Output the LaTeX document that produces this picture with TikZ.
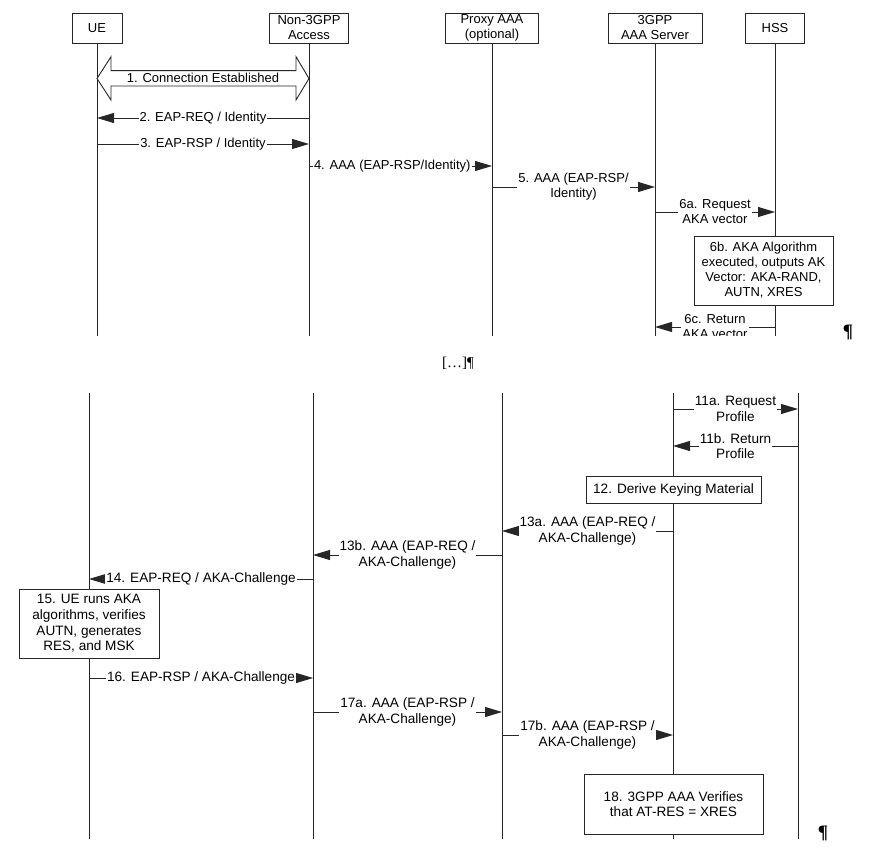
\documentclass[tikz,border=0pt]{standalone}
\usepackage{fontspec}
\setmainfont{Liberation Sans}
\newfontfamily\pilcrowfont{Liberation Serif}
\usetikzlibrary{arrows.meta}
\newcommand\sztop{\fontsize{13}{15}\selectfont}
\newcommand\szbot{\fontsize{13.6}{15.6}\selectfont}
\begin{document}
\begin{tikzpicture}[x=1pt,y=-1pt,
  ln/.style={draw=black!85, line width=0.9pt},
  hdr/.style={ln, fill=white, align=center, inner sep=0pt, minimum height=30pt, font=\sztop},
  boxT/.style={ln, fill=white, align=center, inner sep=0pt, font=\sztop},
  boxB/.style={ln, fill=white, align=center, inner sep=0pt, font=\szbot},
  msg/.style={ln, -{Triangle[length=17pt,width=10pt]}},
  lblT/.style={fill=white, inner sep=1pt, align=center, font=\sztop},
  lblB/.style={fill=white, inner sep=1pt, align=center, font=\szbot},
]
\fill[white] (0,0) rectangle (884,850);
\useasboundingbox (0,0) rectangle (884,850);

% ---------------- top part ----------------
\begin{scope}
\clip (0,0) rectangle (884,336);
\node[hdr, minimum width=50pt] (ue)  at (97,28)  {UE};
\node[hdr, minimum width=79pt] (nga) at (309,28) {Non-3GPP\\Access};
\node[hdr, minimum width=93pt] (pxy) at (492,28) {Proxy AAA\\(optional)};
\node[hdr, minimum width=94pt] (aaa) at (655,28) {3GPP\\AAA Server};
\node[hdr, minimum width=59pt] (hss) at (775,28) {HSS};
\coordinate (bot) at (0,340);
\foreach \n in {ue,nga,pxy,aaa,hss} \draw[ln] (\n.south) -- (\n |- bot);

% 1. connection established (block double arrow)
\draw[ln, fill=white] (97,78.5) -- (111,56.7) -- (111,70.7) -- (296,70.7) -- (296,56.7)
  -- (309,78.5) -- (296,100) -- (296,86) -- (111,86) -- (111,100) -- cycle;
\node[font=\sztop, inner sep=0pt] (c1) at (203,78) {1. Connection Established};

\coordinate (r2) at (0,118);
\coordinate (r3) at (0,144);
\coordinate (r4) at (0,166);
\coordinate (r5) at (0,187);
\coordinate (r6a) at (0,212);
\coordinate (r6c) at (0,327);
\draw[msg] (nga |- r2) -- (ue |- r2) node[lblT, midway] (m2) {2. EAP-REQ / Identity};
\draw[msg] (ue |- r3) -- (nga |- r3) node[lblT, midway] (m3) {3. EAP-RSP / Identity};
\draw[msg] (nga |- r4) -- (pxy |- r4) node[lblT, pos=0.455] (m4) {4. AAA (EAP-RSP/Identity)};
\draw[msg] (pxy |- r5) -- (aaa |- r5) node[lblT, midway] (m5) {5. AAA (EAP-RSP/\\Identity)};
\draw[msg] (aaa |- r6a) -- (hss |- r6a) node[lblT, midway] (m6a) {6a. Request\\AKA vector};
\node[boxT, minimum width=139pt, minimum height=69pt] (b6b) at (763.5,270.5)
  {6b. AKA Algorithm\\executed, outputs AK\\Vector: AKA-RAND,\\AUTN, XRES};
\draw[msg] (hss |- r6c) -- (aaa |- r6c) node[lblT, midway] (m6c) {6c. Return\\AKA vector};
\end{scope}

\node[font=\pilcrowfont\bfseries\fontsize{19}{19}\selectfont, inner sep=0pt] (pc1) at (848,332) {¶};
\node[font=\pilcrowfont\fontsize{15}{15}\selectfont, inner sep=0pt] (gap) at (458,363) {[…]¶};

% ---------------- bottom part ----------------
\coordinate (ueB)  at (89,393);
\coordinate (ngaB) at (313,393);
\coordinate (pxyB) at (502,393);
\coordinate (aaaB) at (673,393);
\coordinate (hssB) at (798,393);
\coordinate (botB) at (0,839);
\foreach \n in {ueB,ngaB,pxyB,aaaB,hssB} \draw[ln] (\n) -- (\n |- botB);

\coordinate (r11a) at (0,409);
\coordinate (r11b) at (0,446);
\coordinate (r13a) at (0,531);
\coordinate (r13b) at (0,555);
\coordinate (r14) at (0,579);
\coordinate (r16) at (0,678);
\coordinate (r17a) at (0,712);
\coordinate (r17b) at (0,735);

\draw[msg] (aaaB |- r11a) -- (hssB |- r11a) node[lblB, midway] (m11a) {11a. Request\\Profile};
\draw[msg] (hssB |- r11b) -- (aaaB |- r11b) node[lblB, midway] (m11b) {11b. Return\\Profile};
\node[boxB, minimum width=175pt, minimum height=27pt] (b12) at (673.5,489.5) {12. Derive Keying Material};
\draw[msg] (aaaB |- r13a) -- (pxyB |- r13a) node[lblB, midway] (m13a) {13a. AAA (EAP-REQ /\\AKA-Challenge)};
\draw[msg] (pxyB |- r13b) -- (ngaB |- r13b) node[lblB, midway] (m13b) {13b. AAA (EAP-REQ /\\AKA-Challenge)};
\draw[msg] (ngaB |- r14) -- (ueB |- r14) node[lblB, midway] (m14) {14. EAP-REQ / AKA-Challenge};
\node[boxB, minimum width=140pt, minimum height=69pt] (b15) at (89,623.5)
  {15. UE runs AKA\\algorithms, verifies\\AUTN, generates\\RES, and MSK};
\draw[msg] (ueB |- r16) -- (ngaB |- r16) node[lblB, midway] (m16) {16. EAP-RSP / AKA-Challenge};
\draw[msg] (ngaB |- r17a) -- (pxyB |- r17a) node[lblB, midway] (m17a) {17a. AAA (EAP-RSP /\\AKA-Challenge)};
\draw[msg] (pxyB |- r17b) -- (aaaB |- r17b) node[lblB, midway] (m17b) {17b. AAA (EAP-RSP /\\AKA-Challenge)};
\node[boxB, minimum width=179pt, minimum height=60pt] (b18) at (673.5,804)
  {18. 3GPP AAA Verifies\\that AT-RES = XRES};
\node[font=\pilcrowfont\bfseries\fontsize{19}{19}\selectfont, inner sep=0pt] (pc2) at (823,833) {¶};
\end{tikzpicture}
\end{document}
